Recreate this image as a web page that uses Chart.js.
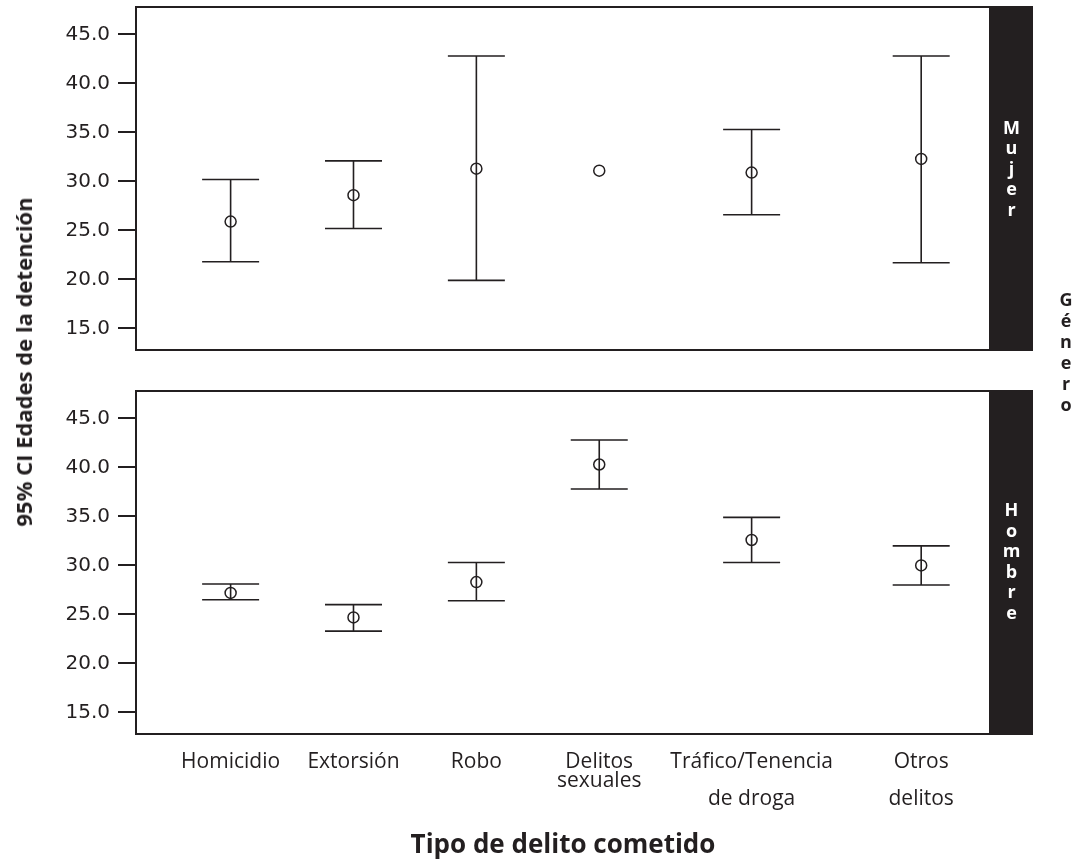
<!DOCTYPE html>
<html lang="es">
<head>
<meta charset="utf-8">
<title>95% CI Edades de la detención por tipo de delito y género</title>
<script src="https://cdn.jsdelivr.net/npm/chart.js@4.4.1/dist/chart.umd.min.js"></script>
<style>
  html, body { margin: 0; padding: 0; background: #fff; }
  body { width: 1081px; height: 865px; position: relative; overflow: hidden;
         font-family: 'Open Sans', sans-serif; color: #231f20; }
  canvas { position: absolute; left: 0; }
  #mujerChart { top: 0; }
  #hombreChart { top: 365px; }
  #yTitle { position: absolute; left: 23px; top: 362px; white-space: nowrap;
            transform: translate(-50%, -50%) rotate(-90deg);
            font-weight: 700; font-size: 22px; }
  #genero { position: absolute; left: 1066px; top: 352px; transform: translate(-50%, -50%);
            text-align: center; font-weight: 700; font-size: 18px; line-height: 21px; }
</style>
</head>
<body>
<canvas id="mujerChart" width="1081" height="365"></canvas>
<canvas id="hombreChart" width="1081" height="500"></canvas>
<div id="yTitle">95% CI Edades de la detención</div>
<div id="genero">G<br>é<br>n<br>e<br>r<br>o</div>
<script>
const INK = '#231f20';

// Categories (x positions, the spacing is not even)
const categories = ['Homicidio', 'Extorsión', 'Robo', ['Delitos', 'sexuales'],
                    ['Tráfico/Tenencia', '', 'de droga'], ['Otros', '', 'delitos']];
const catPos = [1, 2, 3, 4, 5.24, 6.62];
const yTicks = [15, 20, 25, 30, 35, 40, 45];

// Mujer
const mujerMean = [25.9, 28.6, 31.3, 31.1, 30.9, 32.3];
const mujerLow  = [21.8, 25.2, 19.9, null, 26.6, 21.7];
const mujerHigh = [30.2, 32.1, 42.8, null, 35.3, 42.8];

// Hombre
const hombreMean = [27.2, 24.7, 28.3, 40.3, 32.6, 30.0];
const hombreLow  = [26.5, 23.3, 26.4, 37.8, 30.3, 28.0];
const hombreHigh = [28.1, 26.0, 30.3, 42.8, 34.9, 32.0];

// Whiskers with caps, drawn under the circles
const errorBars = {
    id: 'errorBars',
    beforeDatasetsDraw(chart) {
        const { ctx, scales: { x, y } } = chart;
        const ds = chart.data.datasets[0];
        const cap = 28.5;
        ctx.save();
        ctx.strokeStyle = INK;
        ctx.lineWidth = 1.6;
        ds.low.forEach((lo, i) => {
            const hi = ds.high[i];
            if (lo == null || hi == null) return;
            const px = x.getPixelForValue(catPos[i]);
            const pLo = y.getPixelForValue(lo);
            const pHi = y.getPixelForValue(hi);
            ctx.beginPath();
            ctx.moveTo(px, pLo); ctx.lineTo(px, pHi);
            ctx.moveTo(px - cap, pLo); ctx.lineTo(px + cap, pLo);
            ctx.moveTo(px - cap, pHi); ctx.lineTo(px + cap, pHi);
            ctx.stroke();
        });
        ctx.restore();
    }
};

// Frame plus the dark strip with the panel name
const panelFrame = {
    id: 'panelFrame',
    afterDraw(chart) {
        const { ctx, chartArea: { left, top, right, bottom } } = chart;
        const ds = chart.data.datasets[0];
        ctx.save();
        ctx.strokeStyle = INK;
        ctx.lineWidth = 2;
        ctx.strokeRect(left, top, right - left, bottom - top);
        ctx.fillStyle = INK;
        ctx.fillRect(right, top - 1, 43, bottom - top + 2);
        ctx.fillStyle = '#fff';
        ctx.font = 'bold 18px "Open Sans"';
        ctx.textAlign = 'center';
        ctx.textBaseline = 'middle';
        const letters = [...ds.label];
        const pitch = 20.5;
        const cy = (top + bottom) / 2 + ds.labelShift;
        letters.forEach((ch, i) => {
            ctx.fillText(ch, right + 21.5, cy + (i - (letters.length - 1) / 2) * pitch);
        });
        ctx.restore();
    }
};

function makePanel(id, name, means, lows, highs, showX, padding, labelShift) {
    return new Chart(document.getElementById(id), {
        type: 'scatter',
        data: {
            datasets: [{
                label: name,
                low: lows,
                high: highs,
                labelShift: labelShift,
                data: catPos.map((x, i) => ({ x: x, y: means[i] })),
                pointRadius: 5.5,
                pointBorderWidth: 1.5,
                pointBorderColor: INK,
                pointBackgroundColor: 'rgba(0,0,0,0)',
                showLine: false
            }]
        },
        options: {
            responsive: false,
            animation: false,
            layout: { padding: padding },
            plugins: {
                legend: { display: false },
                tooltip: { enabled: false }
            },
            scales: {
                x: {
                    type: 'linear',
                    min: 0.23,
                    max: 7.18,
                    display: showX,
                    afterBuildTicks: s => { s.ticks = catPos.map(v => ({ value: v })); },
                    afterFit: s => {
                        if (showX) s.height = 131;
                        s.paddingLeft = 0; s.paddingRight = 0;
                    },
                    grid: { display: false, drawTicks: false },
                    border: { display: false },
                    ticks: {
                        padding: 19,
                        autoSkip: false,
                        maxRotation: 0,
                        color: INK,
                        font: { family: 'Open Sans', size: 21, lineHeight: 0.88 },
                        callback: (v, i) => categories[i]
                    },
                    title: {
                        display: showX,
                        text: 'Tipo de delito cometido',
                        color: INK,
                        font: { family: 'Open Sans', size: 26, weight: 'bold' },
                        padding: { top: 0, bottom: 4 }
                    }
                },
                y: {
                    min: 12.8,
                    max: 47.8,
                    afterBuildTicks: s => { s.ticks = yTicks.map(v => ({ value: v })); },
                    afterFit: s => {
                        s.width = 136;
                        s.paddingTop = 0; s.paddingBottom = 0;
                    },
                    grid: { drawOnChartArea: false, drawTicks: true, tickLength: 18, color: INK, lineWidth: 2 },
                    border: { display: false },
                    ticks: {
                        padding: 8,
                        color: INK,
                        font: { family: 'DejaVu Sans', size: 20 },
                        callback: v => v.toFixed(1)
                    }
                }
            }
        },
        plugins: [errorBars, panelFrame]
    });
}

makePanel('mujerChart', 'Mujer', mujerMean, mujerLow, mujerHigh, false,
          { top: 7, right: 91, bottom: 15, left: 0 }, -9);
makePanel('hombreChart', 'Hombre', hombreMean, hombreLow, hombreHigh, true,
          { top: 26, right: 91, bottom: 0, left: 0 }, 0);
</script>
</body>
</html>
